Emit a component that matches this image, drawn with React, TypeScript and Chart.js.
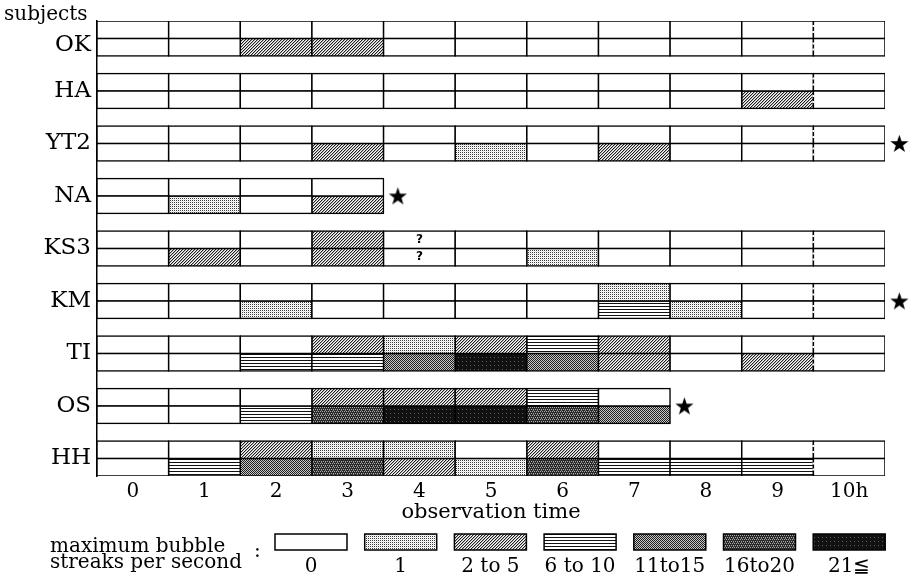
import React, { useEffect, useRef } from "react";
import { Chart, registerables } from "chart.js";

Chart.register(...registerables);

// ---------- data ----------
const subjects = ["OK", "HA", "YT2", "NA", "KS3", "KM", "TI", "OS", "HH"];
const timeLabels = ["0", "1", "2", "3", "4", "5", "6", "7", "8", "9", "10h"];
const levelLabels = ["0", "1", "2 to 5", "6 to 10", "11to15", "16to20", "21≦"];

// level index per observed hour (0 = none ... 6 = 21 or more)
const okUpper = [0, 0, 0, 0, 0, 0, 0, 0, 0, 0, 0];
const okLower = [0, 0, 2, 2, 0, 0, 0, 0, 0, 0, 0];
const haUpper = [0, 0, 0, 0, 0, 0, 0, 0, 0, 0, 0];
const haLower = [0, 0, 0, 0, 0, 0, 0, 0, 0, 2, 0];
const yt2Upper = [0, 0, 0, 0, 0, 0, 0, 0, 0, 0, 0];
const yt2Lower = [0, 0, 0, 2, 0, 1, 0, 2, 0, 0, 0];
const naUpper = [0, 0, 0, 0];
const naLower = [0, 1, 0, 2];
const ks3Upper = [0, 0, 0, 2, 0, 0, 0, 0, 0, 0, 0];
const ks3Lower = [0, 2, 0, 2, 0, 0, 1, 0, 0, 0, 0];
const kmUpper = [0, 0, 0, 0, 0, 0, 0, 1, 0, 0, 0];
const kmLower = [0, 0, 1, 0, 0, 0, 0, 3, 1, 0, 0];
const tiUpper = [0, 0, 0, 2, 1, 2, 3, 2, 0, 0, 0];
const tiLower = [0, 0, 3, 3, 4, 6, 4, 2, 0, 2, 0];
const osUpper = [0, 0, 0, 2, 2, 2, 3, 0];
const osLower = [0, 0, 3, 5, 6, 6, 5, 4];
const hhUpper = [0, 0, 2, 1, 1, 0, 2, 0, 0, 0, 0];
const hhLower = [0, 3, 4, 5, 2, 1, 5, 3, 3, 3, 0];

const upperRows = [okUpper, haUpper, yt2Upper, naUpper, ks3Upper, kmUpper, tiUpper, osUpper, hhUpper];
const lowerRows = [okLower, haLower, yt2Lower, naLower, ks3Lower, kmLower, tiLower, osLower, hhLower];

const starredSubjects = ["YT2", "NA", "KM", "OS"];
const unknownCells = [{ subject: "KS3", hour: 4 }];
const dashedHour = 10; // boundary drawn dashed in the original

// ---------- patterns ----------
function makePattern(w: number, h: number, draw: (g: CanvasRenderingContext2D) => void, bg = "#fff") {
  const c = document.createElement("canvas");
  c.width = w;
  c.height = h;
  const g = c.getContext("2d")!;
  g.fillStyle = bg;
  g.fillRect(0, 0, w, h);
  draw(g);
  return g.createPattern(c, "repeat")!;
}

function buildPatterns(): (string | CanvasPattern)[] {
  const px = (g: CanvasRenderingContext2D, x: number, y: number, c: string) => {
    g.fillStyle = c;
    g.fillRect(x, y, 1, 1);
  };
  const p1 = makePattern(2, 2, (g) => {
    px(g, 0, 0, "#3a3a3a");
    px(g, 1, 1, "#e4e4e4");
  });
  const p2 = makePattern(3, 3, (g) => {
    px(g, 2, 0, "#1e1e1e");
    px(g, 1, 1, "#1e1e1e");
    px(g, 0, 2, "#1e1e1e");
    px(g, 0, 0, "#b0b0b0");
    px(g, 2, 1, "#b0b0b0");
    px(g, 1, 2, "#b0b0b0");
  });
  const p3 = makePattern(1, 3, (g) => {
    px(g, 0, 0, "#111");
  });
  const p4 = makePattern(2, 2, (g) => {
    px(g, 0, 0, "#1e1e1e");
    px(g, 1, 1, "#1e1e1e");
    px(g, 1, 0, "#c8c8c8");
    px(g, 0, 1, "#c8c8c8");
  });
  const p5 = makePattern(4, 4, (g) => {
    g.fillStyle = "#2a2a2a";
    g.fillRect(0, 0, 4, 4);
    px(g, 1, 1, "#a8a8a8");
    px(g, 3, 1, "#a8a8a8");
    px(g, 0, 3, "#a8a8a8");
    px(g, 2, 3, "#a8a8a8");
    px(g, 1, 2, "#777");
  });
  const p6 = makePattern(4, 4, (g) => {
    g.fillStyle = "#111";
    g.fillRect(0, 0, 4, 4);
    px(g, 2, 1, "#5a5a5a");
  });
  return ["#ffffff", p1, p2, p3, p4, p5, p6];
}

function makeStar(size: number) {
  const c = document.createElement("canvas");
  c.width = size;
  c.height = size;
  const g = c.getContext("2d")!;
  const cx = size / 2;
  const cy = size / 2 + 0.8;
  const R = size / 2;
  const r = R * 0.4;
  g.beginPath();
  for (let k = 0; k < 10; k++) {
    const ang = -Math.PI / 2 + (k * Math.PI) / 5;
    const rad = k % 2 === 0 ? R : r;
    const x = cx + rad * Math.cos(ang);
    const y = cy + rad * Math.sin(ang);
    if (k === 0) g.moveTo(x, y);
    else g.lineTo(x, y);
  }
  g.closePath();
  g.fillStyle = "#000";
  g.fill();
  return c;
}

const SERIF = "'DejaVu Serif', 'Liberation Serif', serif";

export default function App() {
  const canvasRef = useRef<HTMLCanvasElement | null>(null);

  useEffect(() => {
    if (!canvasRef.current) return;
    const patterns = buildPatterns();
    const star = makeStar(19);

    const rowY = (i: number, r: number) => i * 3 + r + 0.5;

    const barSets: any[] = levelLabels.map((label, L) => {
      const data: any[] = [];
      subjects.forEach((_, i) => {
        [upperRows[i], lowerRows[i]].forEach((row, r) => {
          row.forEach((lv, h) => {
            if (lv === L) data.push({ x: [h, h + 1], y: rowY(i, r) });
          });
        });
      });
      return {
        type: "bar",
        label,
        data,
        backgroundColor: patterns[L],
        borderColor: "#000",
        borderWidth: 1.5,
        borderSkipped: false,
        inflateAmount: 0.75,
        grouped: false,
        categoryPercentage: 1,
        barPercentage: 1,
      };
    });

    const starData = starredSubjects.map((s) => {
      const i = subjects.indexOf(s);
      return { x: lowerRows[i].length + 0.2, y: i * 3 + 1 };
    });

    const extras = {
      id: "extras",
      afterDraw(chart: any) {
        const ctx = chart.ctx as CanvasRenderingContext2D;
        const xs = chart.scales.x;
        const ys = chart.scales.y;
        ctx.save();

        // dashed boundary at the last hour (white gaps over the cell border)
        ctx.strokeStyle = "#fff";
        ctx.lineWidth = 2;
        ctx.setLineDash([2, 4]);
        const xd = xs.getPixelForValue(dashedHour);
        subjects.forEach((_, i) => {
          [0, 1].forEach((r) => {
            const row = r === 0 ? upperRows[i] : lowerRows[i];
            if (row.length > dashedHour) {
              const y0 = ys.getPixelForValue(i * 3 + r) + 2;
              const y1 = ys.getPixelForValue(i * 3 + r + 1) - 2;
              ctx.beginPath();
              ctx.moveTo(xd, y0 + 2);
              ctx.lineTo(xd, y1);
              ctx.stroke();
            }
          });
        });
        ctx.setLineDash([]);

        // "subjects" header
        ctx.fillStyle = "#000";
        ctx.font = `20px ${SERIF}`;
        ctx.textAlign = "left";
        ctx.textBaseline = "alphabetic";
        ctx.fillText("subjects", 4, 20);

        // question marks
        ctx.font = "bold 12px 'DejaVu Sans', sans-serif";
        ctx.textAlign = "center";
        ctx.textBaseline = "middle";
        unknownCells.forEach((u) => {
          const i = subjects.indexOf(u.subject);
          [0, 1].forEach((r) => {
            ctx.fillText("?", xs.getPixelForValue(u.hour + 0.5), ys.getPixelForValue(rowY(i, r)));
          });
        });

        // legend
        const H = chart.height;
        const boxTop = H - 44;
        const boxH = 16;
        const boxW = 72;
        ctx.font = `20px ${SERIF}`;
        ctx.textAlign = "left";
        ctx.textBaseline = "alphabetic";
        ctx.fillText("maximum bubble", 50, H - 26);
        ctx.fillText("streaks per second", 50, H - 10);
        ctx.fillText(":", 254, H - 21);
        levelLabels.forEach((lab, L) => {
          const left = 275 + L * 89.7;
          ctx.fillStyle = "#000";
          ctx.fillRect(left - 0.75, boxTop - 0.75, boxW + 1.5, boxH + 1.5);
          ctx.fillStyle = patterns[L] as any;
          ctx.fillRect(left + 0.75, boxTop + 0.75, boxW - 1.5, boxH - 1.5);
          ctx.fillStyle = "#000";
          ctx.textAlign = "center";
          ctx.fillText(lab, left + boxW / 2, H - 6);
        });
        ctx.restore();
      },
    };

    const chart = new Chart(canvasRef.current, {
      type: "bar",
      data: {
        datasets: [
          ...barSets,
          {
            type: "scatter",
            label: "end",
            data: starData,
            pointStyle: star,
            pointRadius: 20,
            clip: false,
          } as any,
        ],
      },
      options: {
        indexAxis: "y",
        animation: false,
        responsive: true,
        maintainAspectRatio: false,
        events: [],
        layout: { padding: { top: 19, right: 25, bottom: 52, left: 0 } },
        plugins: { legend: { display: false }, tooltip: { enabled: false } },
        scales: {
          x: {
            type: "linear",
            position: "bottom",
            min: 0,
            max: 11,
            offset: false,
            grid: { display: false, drawTicks: false, offset: false },
            border: { display: false },
            afterBuildTicks: (s: any) => {
              s.ticks = timeLabels.map((_, i) => ({ value: i + 0.5 }));
            },
            afterFit: (s: any) => {
              s.height = 50;
            },
            ticks: {
              autoSkip: false,
              maxRotation: 0,
              padding: 4,
              color: "#000",
              font: { family: SERIF, size: 20 },
              callback: (_v: any, idx: number) => timeLabels[idx],
            },
            title: {
              display: true,
              text: "observation time",
              color: "#000",
              font: { family: SERIF, size: 21 },
              padding: { top: 0, bottom: 1 },
            },
          },
          y: {
            type: "linear",
            min: 0,
            max: 26,
            reverse: true,
            offset: false,
            grid: { display: false, drawTicks: false, offset: false },
            border: { display: true, color: "#000", width: 1.5 },
            afterBuildTicks: (s: any) => {
              s.ticks = subjects.map((_, i) => ({ value: i * 3 + 1 + (i === 0 ? 0.35 : 0) }));
            },
            afterFit: (s: any) => {
              s.width = 97;
            },
            ticks: {
              autoSkip: false,
              padding: 6,
              color: "#000",
              font: { family: SERIF, size: 23 },
              callback: (_v: any, idx: number) => subjects[idx],
            },
          },
        },
      } as any,
      plugins: [extras],
    });

    return () => chart.destroy();
  }, []);

  return (
    <div style={{ position: "absolute", left: 0, top: 0, width: 910, height: 578, background: "#fff" }}>
      <canvas ref={canvasRef} />
    </div>
  );
}
